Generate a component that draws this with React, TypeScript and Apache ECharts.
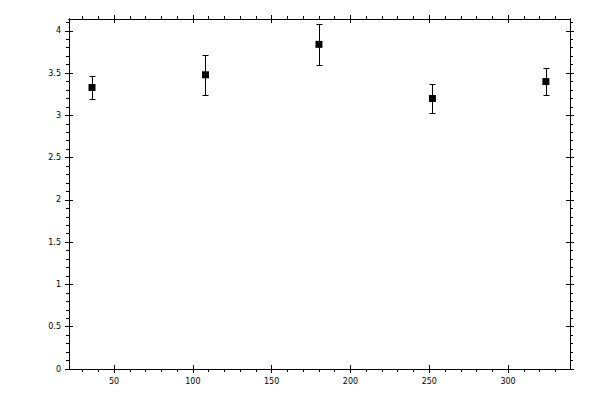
import React, { useEffect, useRef } from 'react';
import * as echarts from 'echarts';

// measured values
const xValues = [36, 108, 180, 252, 324];
const yValues = [3.33, 3.48, 3.84, 3.2, 3.4];
const errLow = [3.19, 3.245, 3.59, 3.03, 3.245];
const errHigh = [3.47, 3.72, 4.085, 3.375, 3.555];

// axis ranges and tick labels
const xRange = [21.4, 339.3];
const yRange = [0, 4.14];
const xTicks = [50, 100, 150, 200, 250, 300];
const yTicks = [0, 0.5, 1, 1.5, 2, 2.5, 3, 3.5, 4];

const black = '#000';
const labelFont = { fontFamily: 'DejaVu Sans', fontSize: 8, color: black };

const xAxis = (gridIndex: number, position: string, inside: boolean, labels: boolean) => ({
  type: 'value',
  gridIndex,
  position,
  min: xRange[0],
  max: xRange[1],
  minInterval: 50,
  maxInterval: 50,
  axisLine: { show: true, onZero: false, lineStyle: { color: black, width: 1 } },
  axisTick: { show: true, inside, length: 4, customValues: xTicks, lineStyle: { color: black, width: 1 } },
  minorTick: { show: !inside, splitNumber: 5, length: 3, lineStyle: { color: black, width: 1 } },
  axisLabel: { show: labels, customValues: xTicks, margin: 8, ...labelFont },
  splitLine: { show: false },
  minorSplitLine: { show: false },
});

const yAxis = (gridIndex: number, position: string, inside: boolean, labels: boolean) => ({
  type: 'value',
  gridIndex,
  position,
  min: yRange[0],
  max: yRange[1],
  interval: 0.5,
  axisLine: { show: true, onZero: false, lineStyle: { color: black, width: 1 } },
  axisTick: { show: true, inside, length: 4, customValues: yTicks, lineStyle: { color: black, width: 1 } },
  minorTick: { show: !inside, splitNumber: 5, length: 3, lineStyle: { color: black, width: 1 } },
  axisLabel: { show: labels, customValues: yTicks, margin: 8, ...labelFont },
  splitLine: { show: false },
  minorSplitLine: { show: false },
});

const App: React.FC = () => {
  const chartRef = useRef<HTMLDivElement>(null);

  useEffect(() => {
    document.body.style.margin = '0';
    if (!chartRef.current) return;
    const chart = echarts.init(chartRef.current, null, { renderer: 'svg' });

    const gridBox = { left: 69, top: 19, right: 30, bottom: 31 };

    const option: any = {
      animation: false,
      backgroundColor: '#fff',
      grid: [gridBox, gridBox],
      xAxis: [
        xAxis(0, 'bottom', false, true),
        xAxis(0, 'top', false, false),
        xAxis(1, 'bottom', true, false),
        xAxis(1, 'top', true, false),
      ],
      yAxis: [
        yAxis(0, 'left', false, true),
        yAxis(0, 'right', false, false),
        yAxis(1, 'left', true, false),
        yAxis(1, 'right', true, false),
      ],
      series: [
        {
          type: 'custom',
          xAxisIndex: 0,
          yAxisIndex: 0,
          data: xValues.map((x, i) => [x, errLow[i], errHigh[i]]),
          encode: { x: 0, y: [1, 2] },
          renderItem: (_params: any, api: any) => {
            const x = api.value(0);
            const lo = api.coord([x, api.value(1)]);
            const hi = api.coord([x, api.value(2)]);
            const cx = Math.round(lo[0]) + 0.5;
            const yl = Math.round(lo[1]) + 0.5;
            const yh = Math.round(hi[1]) + 0.5;
            const w = 3;
            const style = { stroke: black, lineWidth: 1 };
            return {
              type: 'group',
              children: [
                { type: 'line', shape: { x1: cx, y1: yh, x2: cx, y2: yl }, style },
                { type: 'line', shape: { x1: cx - w, y1: yh, x2: cx + w, y2: yh }, style },
                { type: 'line', shape: { x1: cx - w, y1: yl, x2: cx + w, y2: yl }, style },
              ],
            };
          },
          z: 2,
        },
        {
          type: 'scatter',
          xAxisIndex: 0,
          yAxisIndex: 0,
          symbol: 'rect',
          symbolSize: 7,
          itemStyle: { color: black, opacity: 1 },
          data: xValues.map((x, i) => [x, yValues[i]]),
          z: 3,
        },
      ],
    };

    chart.setOption(option);
    return () => chart.dispose();
  }, []);

  return <div ref={chartRef} style={{ width: 600, height: 400 }} />;
};

export default App;
